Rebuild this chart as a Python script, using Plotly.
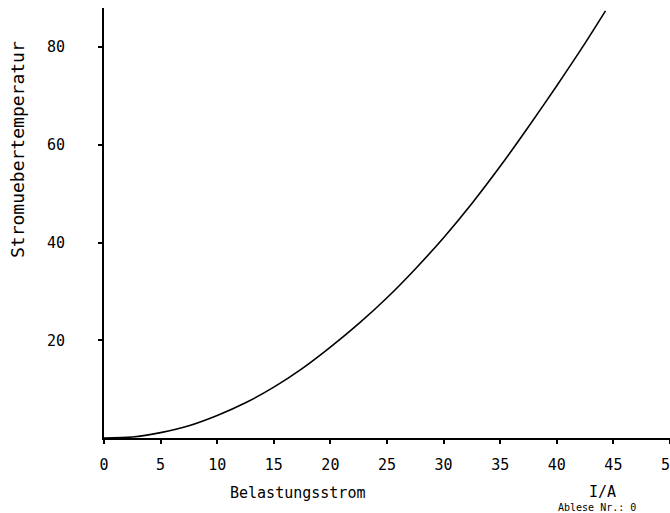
import plotly.graph_objects as go

# Data
current_A = [0, 2.5, 5, 7.5, 10, 12.5, 15, 17.5, 20, 22.5, 25, 27.5, 30, 32.5, 35, 37.5, 40, 42.5, 44.3]
temp_rise = [0, 0.2, 1.1, 2.5, 4.6, 7.2, 10.4, 14.2, 18.6, 23.4, 28.7, 34.6, 41.0, 48.0, 55.6, 63.7, 72.1, 80.8, 87.4]
x_ticks = [0, 5, 10, 15, 20, 25, 30, 35, 40, 45, 50]
y_ticks = [20, 40, 60, 80]

W, H = 670, 513
L, R, T, B = 104, 0, 8, 75
pw, ph = W - L - R, H - T - B

def px(xp):
    return (xp - L) / pw

def py(yp):
    return (H - B - yp) / ph

mono = "DejaVu Sans Mono"

fig = go.Figure()
fig.add_trace(go.Scatter(x=current_A, y=temp_rise, mode="lines",
                         line=dict(color="black", width=1.6, shape="spline", smoothing=0.8),
                         showlegend=False, hoverinfo="skip"))

fig.update_layout(
    width=W, height=H,
    margin=dict(l=L, r=R, t=T, b=B, pad=0),
    paper_bgcolor="white", plot_bgcolor="white",
    font=dict(family=mono, color="black", size=14),
    xaxis=dict(range=[0, 50], tickvals=x_ticks, ticktext=[str(v) for v in x_ticks],
               showgrid=False, zeroline=False, showline=True, linecolor="black", linewidth=2,
               ticks="outside", ticklen=4, tickwidth=1.5, tickcolor="black",
               ticklabelstandoff=8,
               ticklabeloverflow="allow", automargin=False, tickfont=dict(family=mono, size=15)),
    yaxis=dict(range=[0, 88], tickvals=y_ticks, ticktext=[str(v) for v in y_ticks],
               showgrid=False, zeroline=False, showline=True, linecolor="black", linewidth=2,
               ticks="outside", ticklen=4, tickwidth=1.5, tickcolor="black", automargin=False,
               ticklabelstandoff=30, tickfont=dict(family=mono, size=15)),
)

fig.add_annotation(text="Stromuebertemperatur", xref="paper", yref="paper",
                   x=px(17), y=py(150), textangle=-90, showarrow=False,
                   font=dict(family=mono, size=18), xanchor="center", yanchor="middle")
fig.add_annotation(text="Belastungsstrom", xref="paper", yref="paper",
                   x=px(297), y=py(493), showarrow=False,
                   font=dict(family=mono, size=15), xanchor="center", yanchor="middle")
fig.add_annotation(text="I/A", xref="paper", yref="paper",
                   x=px(602), y=py(492), showarrow=False,
                   font=dict(family=mono, size=15), xanchor="center", yanchor="middle")
fig.add_annotation(text="Ablese Nr.: 0", xref="paper", yref="paper",
                   x=px(556), y=py(507), showarrow=False,
                   font=dict(family=mono, size=10), xanchor="left", yanchor="middle")

fig.write_html("out.html", config={"displayModeBar": False},
               post_script="document.body.style.margin='0px';document.body.style.overflow='hidden';")
